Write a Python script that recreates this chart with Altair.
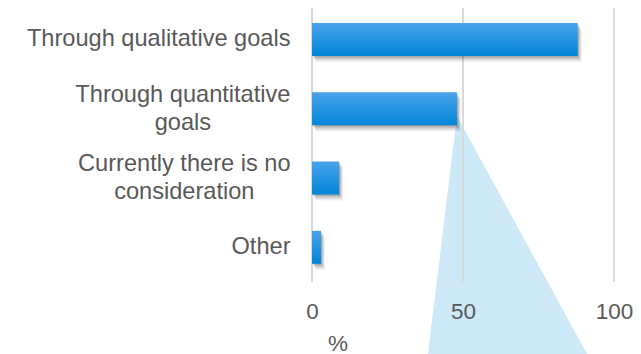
import json
import altair as alt
import pandas as pd

categories = [
    "Through qualitative goals",
    "Through quantitative\ngoals",
    "Currently there is no\nconsideration",
    "Other",
]
values = [88, 48, 9, 3]
tick_values = [0, 50, 100]

# light-blue callout triangle (x in %, y as fraction of plot height from top)
tri_y = [0.394, 1.263]
tri_x_left = [48, 38.4]
tri_x_right = [48, 91.1]

FONT = "Liberation Sans"
FS = 22.5
FS_Y = 23.6
GRAY = "#595959"
LINE_H = 27.7

# Arial / Liberation Sans advance widths (1/1000 em)
W = {"T": 611, "h": 556, "r": 333, "o": 556, "u": 556, "g": 556, " ": 278,
     "q": 556, "a": 556, "l": 222, "i": 222, "t": 278, "v": 500, "e": 556,
     "s": 500, "n": 556, "C": 722, "y": 500, "c": 500, "d": 556, "O": 778}


def text_width(s):
    return max(sum(W.get(c, 556) for c in line) for line in s.split("\n")) * FS_Y / 1000


GAP = 22
pad_conds = [
    {"test": "datum.value === " + json.dumps(c), "value": round(GAP + text_width(c) / 2, 1)}
    for c in categories[:-1]
]
label_pad = {"condition": pad_conds, "value": round(GAP + text_width(categories[-1]) / 2, 1)}

off_conds = [
    {"test": "datum.value === " + json.dumps(c), "value": -(c.count("\n")) * LINE_H / 2}
    for c in categories if "\n" in c
]
label_off = {"condition": off_conds, "value": 0}

df = pd.DataFrame({"cat": categories, "val": values})
grid_df = pd.DataFrame({"val": tick_values})
tri_df = pd.DataFrame({"ty": tri_y, "xl": tri_x_left, "xr": tri_x_right})

xscale = alt.Scale(domain=[0, 100], nice=False, zero=False)
x_axis = alt.Axis(
    values=tick_values, grid=False, domain=False, ticks=False, labelFlush=False,
    labelFont=FONT, labelFontSize=FS, labelColor=GRAY, labelPadding=18,
    title="%", titleFont=FONT, titleFontSize=FS, titleColor=GRAY,
    titleFontWeight="normal", titleAlign="center", titleBaseline="alphabetic",
    titleX=25.5, titleY=68, zindex=1,
)

y_enc = alt.Y(
    "cat:N", sort=categories, title=None,
    scale=alt.Scale(paddingInner=0.524, paddingOuter=0.239, align=0.45),
    axis=alt.Axis(
        labelExpr="split(datum.label, '\\n')", labelAlign="center",
        labelBaseline="middle", labelPadding=label_pad, labelOffset=label_off,
        labelFont=FONT, labelFontSize=FS_Y, labelColor=GRAY,
        labelLineHeight=LINE_H, labelLimit=500,
        domain=False, ticks=False, grid=False,
    ),
)

triangle = alt.Chart(tri_df).mark_area(orient="horizontal", color="#cde8f6").encode(
    y=alt.Y("ty:Q", scale=alt.Scale(domain=[0, 1], reverse=True, nice=False, zero=False), axis=None),
    x=alt.X("xl:Q", scale=xscale, axis=x_axis),
    x2="xr:Q",
)

grid = alt.Chart(grid_df).mark_rule(color="#d9d9d9", strokeWidth=2).encode(
    x=alt.X("val:Q", scale=xscale, axis=x_axis)
)

base = alt.Chart(df)
x_enc = alt.X("val:Q", scale=xscale, axis=x_axis)

shadows = [
    base.mark_bar(color="#000000", opacity=op, xOffset=dx, yOffset=dy).encode(x=x_enc, y=y_enc)
    for op, dx, dy in [(0.06, 4, 6), (0.08, 3, 4.5), (0.11, 2, 3), (0.14, 1, 1.5)]
]

gradient = alt.Gradient(
    gradient="linear",
    stops=[alt.GradientStop(color="#4aa3ea", offset=0),
           alt.GradientStop(color="#0085d9", offset=1)],
    x1=0, x2=0, y1=0, y2=1,
)
bars = base.mark_bar(color=gradient).encode(x=x_enc, y=y_enc)

inner = alt.layer(grid, *shadows, bars)

chart = alt.layer(triangle, inner).resolve_scale(y="independent").properties(
    width=302, height=274,
    autosize=alt.AutoSizeParams(type="none"),
    padding={"left": 304, "top": 0, "right": 19, "bottom": 72},
).configure_view(stroke=None)

chart.save("out.html", embed_options={"renderer": "svg", "actions": False})
